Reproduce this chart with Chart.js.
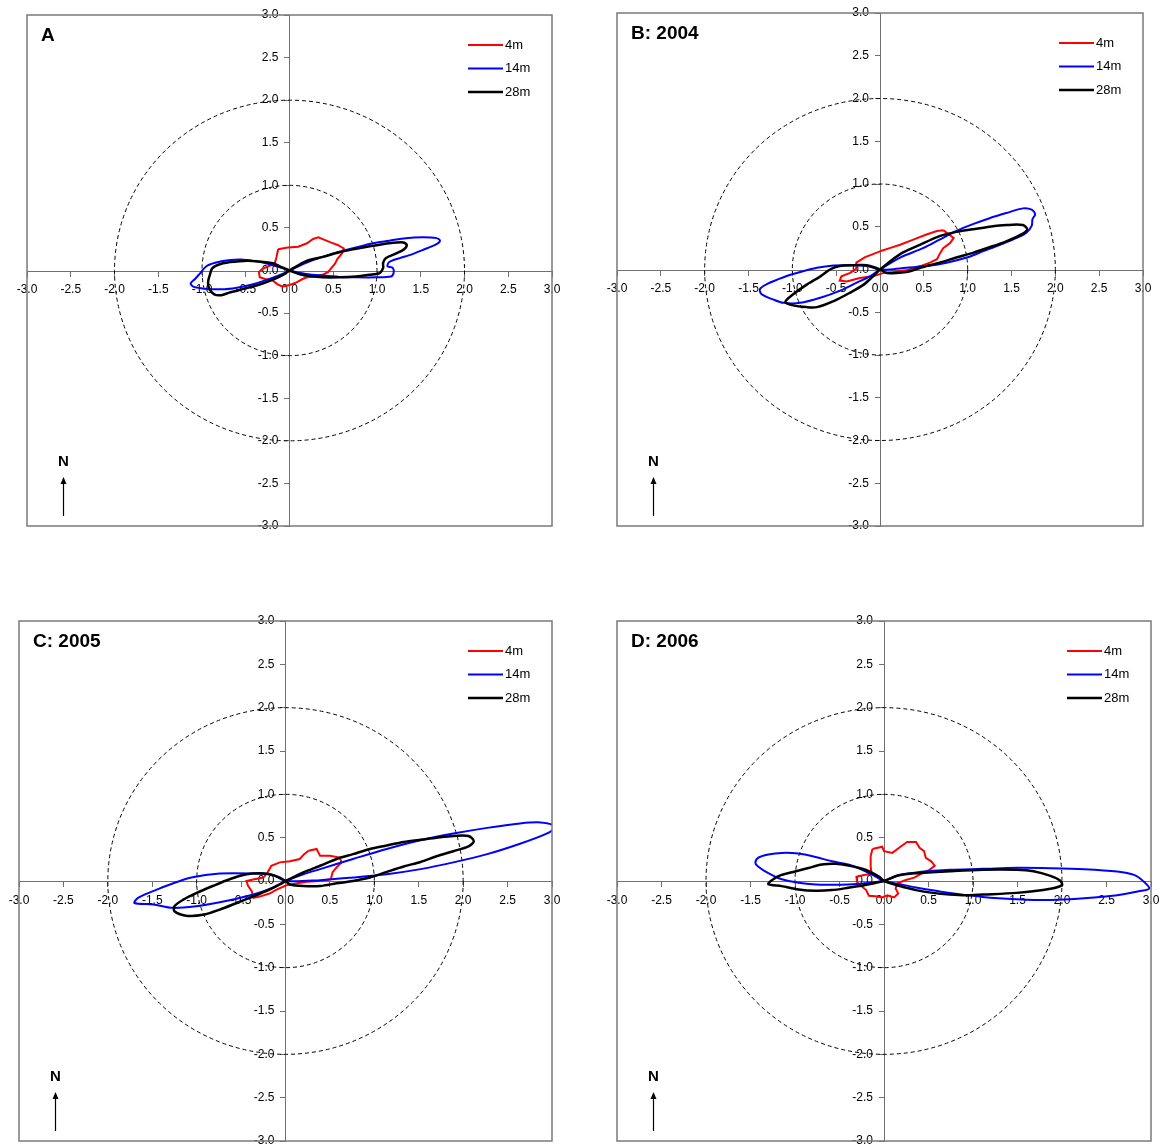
<!DOCTYPE html>
<html>
<head>
<meta charset="utf-8">
<script src="https://cdn.jsdelivr.net/npm/chart.js@4.4.1/dist/chart.umd.min.js"></script>
<style>
html,body{margin:0;padding:0;background:#fff;overflow:hidden;width:1163px;height:1145px;}
canvas{position:absolute;}
</style>
</head>
<body>
<canvas id="cA"></canvas>
<canvas id="cB"></canvas>
<canvas id="cC"></canvas>
<canvas id="cD"></canvas>
<script>
// ---------- data ----------
const seriesNames = ['4m', '14m', '28m'];
const panelTitles = ['A', 'B: 2004', 'C: 2005', 'D: 2006'];
const tickValues = [-3.0, -2.5, -2.0, -1.5, -1.0, -0.5, 0.0, 0.5, 1.0, 1.5, 2.0, 2.5, 3.0];
const circleRadii = [1, 2];

// Panel A
const a4m = [[-0.13,0.25],[-0.02,0.27],[0.1,0.28],[0.2,0.32],[0.27,0.37],[0.33,0.39],[0.4,0.36],[0.47,0.33],[0.55,0.3],[0.62,0.26],[0.6,0.2],[0.55,0.14],[0.52,0.08],[0.48,0.03],[0.44,-0.02],[0.38,-0.05],[0.3,-0.07],[0.2,-0.08],[0.15,-0.1],[0.08,-0.14],[0.0,-0.17],[-0.08,-0.19],[-0.14,-0.16],[-0.2,-0.11],[-0.28,-0.1],[-0.34,-0.08],[-0.35,-0.02],[-0.31,0.02],[-0.24,0.05],[-0.17,0.08],[-0.15,0.15],[-0.13,0.25]];
const a14m = [[0,0],[0.19,0.09],[0.38,0.16],[0.57,0.22],[0.76,0.27],[0.95,0.32],[1.14,0.35],[1.33,0.38],[1.52,0.39],[1.68,0.38],[1.72,0.35],[1.68,0.31],[1.52,0.24],[1.37,0.18],[1.26,0.145],[1.14,0.1],[1.12,0.05],[1.18,0.03],[1.19,-0.03],[1.16,-0.07],[0.99,-0.08],[0.76,-0.08],[0.57,-0.075],[0.38,-0.06],[0.19,-0.04],[0,0],[-0.12,0.04],[-0.25,0.08],[-0.4,0.11],[-0.55,0.13],[-0.7,0.12],[-0.85,0.09],[-0.95,0.05],[-1.02,-0.03],[-1.08,-0.1],[-1.13,-0.15],[-1.1,-0.19],[-1.0,-0.21],[-0.85,-0.22],[-0.65,-0.21],[-0.45,-0.17],[-0.26,-0.11],[-0.1,-0.05],[0,0]];
const a28m = [[0,0],[0.19,0.11],[0.38,0.16],[0.57,0.215],[0.76,0.255],[0.95,0.29],[1.14,0.32],[1.3,0.33],[1.34,0.3],[1.31,0.25],[1.22,0.2],[1.1,0.145],[1.07,0.09],[1.07,0.03],[1.03,-0.03],[0.91,-0.05],[0.76,-0.07],[0.57,-0.08],[0.38,-0.08],[0.19,-0.06],[0.08,-0.03],[0,0],[-0.08,0.035],[-0.19,0.085],[-0.38,0.11],[-0.57,0.11],[-0.76,0.085],[-0.88,0.03],[-0.91,-0.05],[-0.93,-0.13],[-0.92,-0.21],[-0.86,-0.28],[-0.78,-0.29],[-0.69,-0.26],[-0.5,-0.21],[-0.3,-0.15],[-0.15,-0.09],[-0.04,-0.03],[0,0]];

// Panel B: 2004
const b4m = [[0.72,0.46],[0.84,0.37],[0.8,0.31],[0.72,0.25],[0.68,0.18],[0.65,0.12],[0.57,0.08],[0.46,0.04],[0.3,-0.01],[0.15,-0.03],[0.04,-0.04],[-0.08,-0.08],[-0.23,-0.1],[-0.38,-0.14],[-0.46,-0.13],[-0.44,-0.08],[-0.34,-0.04],[-0.27,0.01],[-0.27,0.08],[-0.17,0.145],[-0.08,0.18],[0.02,0.22],[0.11,0.25],[0.23,0.29],[0.38,0.35],[0.53,0.41],[0.65,0.45],[0.72,0.46]];
const b14m = [[0,0],[0.23,0.14],[0.49,0.25],[0.68,0.35],[0.87,0.45],[1.06,0.53],[1.25,0.6],[1.44,0.66],[1.63,0.715],[1.73,0.7],[1.77,0.645],[1.74,0.59],[1.73,0.51],[1.67,0.43],[1.56,0.37],[1.37,0.29],[1.18,0.215],[0.99,0.14],[0.76,0.08],[0.53,0.04],[0.3,0.02],[0.11,0.0],[0,0],[-0.15,0.04],[-0.34,0.05],[-0.53,0.047],[-0.72,0.02],[-0.91,-0.03],[-1.1,-0.09],[-1.29,-0.17],[-1.37,-0.23],[-1.35,-0.29],[-1.22,-0.35],[-1.1,-0.39],[-0.91,-0.39],[-0.68,-0.33],[-0.46,-0.25],[-0.27,-0.156],[-0.11,-0.078],[0,0]];
const b28m = [[0,0],[0.23,0.18],[0.46,0.29],[0.68,0.39],[0.87,0.44],[1.06,0.47],[1.25,0.5],[1.44,0.52],[1.63,0.52],[1.68,0.47],[1.63,0.42],[1.44,0.33],[1.25,0.26],[1.06,0.195],[0.87,0.14],[0.68,0.08],[0.46,0.02],[0.3,-0.03],[0.08,-0.04],[0,0],[-0.15,0.05],[-0.3,0.05],[-0.46,0.04],[-0.57,0.0],[-0.68,-0.08],[-0.84,-0.18],[-0.99,-0.29],[-1.08,-0.38],[-0.99,-0.42],[-0.84,-0.44],[-0.72,-0.44],[-0.53,-0.37],[-0.34,-0.27],[-0.19,-0.18],[-0.08,-0.08],[0,0]];

// Panel C: 2005
const c4m = [[0.26,0.35],[0.35,0.37],[0.39,0.29],[0.5,0.29],[0.61,0.27],[0.63,0.215],[0.575,0.156],[0.53,0.1],[0.51,0.02],[0.39,0.0],[0.24,-0.01],[0.12,-0.03],[0.01,-0.05],[-0.1,-0.1],[-0.18,-0.145],[-0.29,-0.18],[-0.36,-0.195],[-0.38,-0.117],[-0.42,-0.058],[-0.44,0.0],[-0.35,0.02],[-0.25,0.04],[-0.2,0.1],[-0.16,0.176],[-0.064,0.215],[0.05,0.227],[0.16,0.254],[0.21,0.31],[0.26,0.35]];
const c14m = [[0,0],[0.2,0.078],[0.39,0.137],[0.76,0.254],[1.14,0.37],[1.52,0.47],[1.89,0.547],[2.27,0.613],[2.64,0.664],[2.87,0.676],[3.0,0.65],[3.02,0.605],[2.94,0.547],[2.64,0.43],[2.27,0.31],[1.89,0.215],[1.52,0.137],[1.14,0.078],[0.76,0.04],[0.39,0.01],[0,0],[-0.14,0.07],[-0.36,0.086],[-0.74,0.086],[-1.06,0.04],[-1.3,-0.04],[-1.49,-0.117],[-1.66,-0.195],[-1.7,-0.254],[-1.49,-0.27],[-1.27,-0.31],[-1.0,-0.29],[-0.74,-0.246],[-0.36,-0.156],[-0.14,-0.078],[0,0]];
const c28m = [[0,0],[0.2,0.098],[0.39,0.176],[0.575,0.254],[0.76,0.31],[0.95,0.37],[1.14,0.41],[1.33,0.45],[1.52,0.477],[1.7,0.5],[1.89,0.52],[2.06,0.52],[2.12,0.46],[2.06,0.4],[1.89,0.344],[1.7,0.285],[1.52,0.22],[1.33,0.168],[1.14,0.105],[0.95,0.04],[0.76,0.0],[0.575,-0.027],[0.39,-0.058],[0.2,-0.058],[0.05,-0.04],[0,0],[-0.064,0.04],[-0.18,0.078],[-0.29,0.09],[-0.44,0.078],[-0.63,0.02],[-0.82,-0.058],[-1.0,-0.137],[-1.15,-0.215],[-1.25,-0.29],[-1.25,-0.35],[-1.12,-0.4],[-0.93,-0.39],[-0.74,-0.33],[-0.55,-0.254],[-0.36,-0.176],[-0.18,-0.098],[-0.064,-0.04],[0,0]];

// Panel D: 2006
const d4m = [[-0.13,0.37],[-0.02,0.395],[0.0,0.344],[0.094,0.324],[0.17,0.383],[0.26,0.45],[0.36,0.45],[0.4,0.383],[0.45,0.344],[0.47,0.266],[0.53,0.227],[0.57,0.176],[0.51,0.129],[0.415,0.082],[0.34,0.039],[0.245,0.012],[0.15,-0.027],[0.13,-0.086],[0.16,-0.145],[0.113,-0.19],[0.038,-0.164],[-0.02,-0.19],[-0.094,-0.176],[-0.17,-0.17],[-0.2,-0.105],[-0.245,-0.066],[-0.3,-0.027],[-0.31,0.05],[-0.226,0.07],[-0.14,0.082],[-0.15,0.168],[-0.15,0.285],[-0.13,0.37]];
const d14m = [[0,0],[0.17,0.07],[0.36,0.098],[0.55,0.117],[0.74,0.13],[1.11,0.14],[1.49,0.152],[1.87,0.148],[2.25,0.137],[2.62,0.11],[2.81,0.07],[2.92,-0.008],[2.98,-0.086],[2.89,-0.113],[2.62,-0.164],[2.25,-0.2],[1.87,-0.22],[1.49,-0.21],[1.11,-0.184],[0.74,-0.137],[0.36,-0.074],[0.17,-0.035],[0,0],[-0.094,0.05],[-0.245,0.13],[-0.4,0.19],[-0.585,0.227],[-0.77,0.277],[-0.96,0.316],[-1.15,0.324],[-1.3,0.305],[-1.415,0.266],[-1.445,0.207],[-1.415,0.168],[-1.3,0.09],[-1.15,0.02],[-0.96,-0.02],[-0.77,-0.04],[-0.585,-0.043],[-0.4,-0.04],[-0.21,-0.027],[0,0]];
const d28m = [[0,0],[0.17,0.066],[0.36,0.09],[0.74,0.113],[1.11,0.13],[1.49,0.13],[1.68,0.113],[1.87,0.059],[1.98,0.004],[2.0,-0.047],[1.87,-0.09],[1.49,-0.137],[1.11,-0.156],[0.92,-0.164],[0.74,-0.156],[0.55,-0.137],[0.36,-0.105],[0.17,-0.055],[0,0],[-0.057,0.05],[-0.21,0.13],[-0.4,0.18],[-0.55,0.2],[-0.7,0.19],[-0.85,0.15],[-1.0,0.11],[-1.15,0.07],[-1.23,0.03],[-1.3,-0.035],[-1.15,-0.059],[-0.96,-0.098],[-0.77,-0.113],[-0.585,-0.105],[-0.4,-0.078],[-0.21,-0.047],[0,0]];

// ---------- styling / layout ----------
const FONT = "'Liberation Sans', Arial, sans-serif";
const seriesColors = ['#ff0000', '#0000ff', '#000000'];
const seriesWidths = [2, 2, 2.5];
const seriesTension = [0, 0.3, 0.3];
const panelRects = [
  {id: 'cA', l: 27, t: 15, r: 552, b: 526},
  {id: 'cB', l: 617, t: 13, r: 1143, b: 526},
  {id: 'cC', l: 19, t: 621, r: 552, b: 1141},
  {id: 'cD', l: 617, t: 621, r: 1151, b: 1141}
];
const panelData = [[a4m, a14m, a28m], [b4m, b14m, b28m], [c4m, c14m, c28m], [d4m, d14m, d28m]];

const decorPlugin = {
  id: 'decor',
  beforeDatasetsDraw(chart) {
    const {ctx, chartArea: ca, scales: {x, y}} = chart;
    ctx.save();
    ctx.beginPath();
    ctx.rect(ca.left, ca.top, ca.width, ca.height);
    ctx.clip();
    ctx.setLineDash([4, 3]);
    ctx.strokeStyle = '#000';
    ctx.lineWidth = 1;
    const cx = x.getPixelForValue(0), cy = y.getPixelForValue(0);
    circleRadii.forEach(r => {
      ctx.beginPath();
      ctx.ellipse(cx, cy, Math.abs(x.getPixelForValue(r) - cx), Math.abs(y.getPixelForValue(r) - cy), 0, 0, Math.PI * 2);
      ctx.stroke();
    });
    ctx.restore();
  },
  afterDraw(chart, args, opts) {
    const {ctx, chartArea: ca} = chart;
    ctx.save();
    // frame
    ctx.strokeStyle = '#7a7a7a';
    ctx.lineWidth = 1.5;
    ctx.strokeRect(ca.left, ca.top, ca.right - ca.left, ca.bottom - ca.top);
    // title
    ctx.fillStyle = '#000';
    ctx.font = 'bold 19px ' + FONT;
    ctx.textAlign = 'left';
    ctx.textBaseline = 'middle';
    ctx.fillText(opts.title, ca.left + 14, ca.top + 21);
    // legend
    ctx.font = '13px ' + FONT;
    seriesNames.forEach((name, i) => {
      const yy = ca.top + 30 + i * 23.5;
      ctx.strokeStyle = seriesColors[i];
      ctx.lineWidth = seriesWidths[i];
      ctx.beginPath();
      ctx.moveTo(ca.right - 84, yy);
      ctx.lineTo(ca.right - 49, yy);
      ctx.stroke();
      ctx.fillStyle = '#000';
      ctx.fillText(name, ca.right - 47, yy);
    });
    // north arrow
    const ax = ca.left + 36.5;
    ctx.font = 'bold 15px ' + FONT;
    ctx.textAlign = 'center';
    ctx.fillText('N', ax, ca.bottom - 64);
    ctx.strokeStyle = '#000';
    ctx.lineWidth = 1.2;
    ctx.beginPath();
    ctx.moveTo(ax, ca.bottom - 10);
    ctx.lineTo(ax, ca.bottom - 44);
    ctx.stroke();
    ctx.beginPath();
    ctx.moveTo(ax, ca.bottom - 49);
    ctx.lineTo(ax - 3, ca.bottom - 42);
    ctx.lineTo(ax + 3, ca.bottom - 42);
    ctx.closePath();
    ctx.fill();
    ctx.restore();
  }
};

function axisOptions(pad) {
  return {
    type: 'linear', min: -3, max: 3, position: 'center',
    afterBuildTicks: s => { s.ticks = tickValues.map(v => ({value: v})); },
    ticks: {
      callback: v => Number(v).toFixed(1),
      font: {family: FONT, size: 12}, color: '#000',
      padding: pad, maxRotation: 0, autoSkip: false
    },
    grid: {display: true, drawOnChartArea: false, drawTicks: true, tickLength: 5, color: '#707070', tickWidth: 1},
    border: {display: true, color: '#707070', width: 1}
  };
}

const P = 22;
panelRects.forEach((rect, i) => {
  const cv = document.getElementById(rect.id);
  cv.width = rect.r - rect.l + 2 * P;
  cv.height = rect.b - rect.t + 2 * P;
  cv.style.left = (rect.l - P) + 'px';
  cv.style.top = (rect.t - P) + 'px';
  new Chart(cv, {
    type: 'scatter',
    data: {
      datasets: seriesNames.map((name, k) => ({
        label: name,
        data: panelData[i][k].map(p => ({x: p[0], y: p[1]})),
        showLine: true,
        borderColor: seriesColors[k],
        backgroundColor: seriesColors[k],
        borderWidth: seriesWidths[k],
        pointRadius: 0,
        tension: seriesTension[k],
        fill: false,
        order: 2 - k
      }))
    },
    options: {
      responsive: false,
      animation: false,
      devicePixelRatio: 1,
      events: [],
      layout: {padding: P, autoPadding: false},
      scales: {x: axisOptions(7), y: axisOptions(6)},
      plugins: {legend: {display: false}, tooltip: {enabled: false}, decor: {title: panelTitles[i]}}
    },
    plugins: [decorPlugin]
  });
});
</script>
</body>
</html>
